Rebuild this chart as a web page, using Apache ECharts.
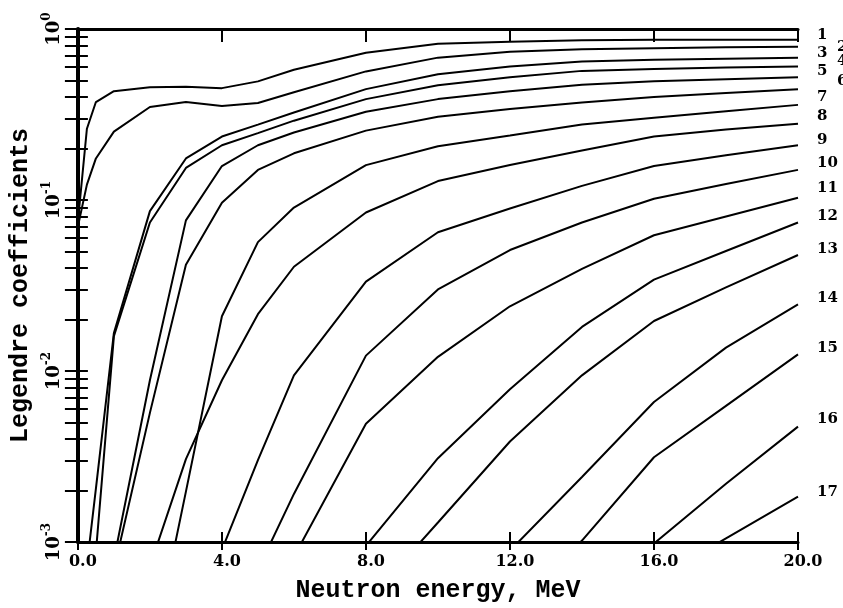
<!DOCTYPE html>
<html><head><meta charset="utf-8">
<script src="https://cdn.jsdelivr.net/npm/echarts@6/dist/echarts.min.js"></script>
<style>html,body{margin:0;padding:0;background:#fff}#c{width:843px;height:608px}</style>
</head><body><div id="c"></div>
<script>
// Neutron energy grid (MeV)
const energies = [0, 0.25, 0.5, 1, 2, 3, 4, 5, 6, 8, 10, 12, 14, 16, 18, 20];
const curveNames = ['1','2','3','4','5','6','7','8','9','10','11','12','13','14','15','16','17'];
// Legendre coefficients, one array per order
const c1  = [0.075, 0.261, 0.374, 0.433, 0.456, 0.459, 0.451, 0.494, 0.578, 0.727, 0.819, 0.841, 0.858, 0.864, 0.864, 0.864];
const c2  = [0.07, 0.123, 0.175, 0.251, 0.350, 0.374, 0.355, 0.369, 0.427, 0.565, 0.680, 0.737, 0.762, 0.772, 0.782, 0.787];
const c3  = [null, 0.00073, 0.00205, 0.0167, 0.0861, 0.175, 0.235, 0.276, 0.325, 0.445, 0.543, 0.604, 0.645, 0.662, 0.671, 0.680];
const c4  = [null, null, 0.00087, 0.0160, 0.0739, 0.154, 0.209, 0.246, 0.291, 0.389, 0.469, 0.522, 0.569, 0.584, 0.596, 0.604];
const c5  = [null, null, null, 0.00079, 0.00883, 0.076, 0.158, 0.209, 0.248, 0.328, 0.389, 0.433, 0.472, 0.494, 0.508, 0.522];
const c6  = [null, null, null, 0.00069, 0.00569, 0.0418, 0.0965, 0.150, 0.1875, 0.2545, 0.3065, 0.341, 0.372, 0.400, 0.422, 0.445];
const c7  = [null, null, null, null, 0.00019, 0.00197, 0.0209, 0.0567, 0.0903, 0.160, 0.206, 0.238, 0.276, 0.303, 0.330, 0.360];
const c8  = [null, null, null, null, 0.00072, 0.00305, 0.00883, 0.0215, 0.0407, 0.0845, 0.129, 0.160, 0.195, 0.235, 0.258, 0.279];
const c9  = [null, null, null, null, null, null, 0.0009, 0.00301, 0.00943, 0.0333, 0.0648, 0.0891, 0.121, 0.158, 0.1825, 0.209];
const c10 = [null, null, null, null, null, null, null, 0.00069, 0.00191, 0.0123, 0.0300, 0.0510, 0.0739, 0.1017, 0.124, 0.150];
const c11 = [null, null, null, null, null, null, null, null, 0.00082, 0.00492, 0.0121, 0.0239, 0.0396, 0.0622, 0.0801, 0.103];
const c12 = [null, null, null, null, null, null, null, null, null, 0.00095, 0.00309, 0.00783, 0.0181, 0.0342, 0.0503, 0.0739];
const c13 = [null, null, null, null, null, null, null, null, null, 0.00044, 0.0013, 0.00387, 0.00943, 0.0196, 0.0308, 0.0477];
const c14 = [null, null, null, null, null, null, null, null, null, null, null, 0.00089, 0.0024, 0.00659, 0.0137, 0.0245];
const c15 = [null, null, null, null, null, null, null, null, null, null, null, 0.00034, 0.00102, 0.00313, 0.00625, 0.0125];
const c16 = [null, null, null, null, null, null, null, null, null, null, null, null, 0.00046, 0.00098, 0.00219, 0.00473];
const c17 = [null, null, null, null, null, null, null, null, null, null, null, null, null, 0.0006, 0.00105, 0.00184];
const curves = [c1,c2,c3,c4,c5,c6,c7,c8,c9,c10,c11,c12,c13,c14,c15,c16,c17];
// tick labels / tick positions
const xTickFormat = v => v.toFixed(1);
const yMinorTicks = [0.001,0.002,0.003,0.004,0.005,0.006,0.007,0.008,0.009,
                     0.01,0.02,0.03,0.04,0.05,0.06,0.07,0.08,0.09,
                     0.1,0.2,0.3,0.4,0.5,0.6,0.7,0.8,0.9,1];

// label placement style (pixel offsets of the curve numbers)
const labelDx = [0,20,0,20,0,20,0,0,0,0,0,0,0,0,0,0,0];
const labelDy = [-5,0,-5,-5,-6,-8,-8,-8,-5,-7,-10,-6,-6,-6,-6,-7,-5];

const chart = echarts.init(document.getElementById('c'), null, {renderer:'canvas'});
const black = '#000';
const tickFont = {fontFamily:'DejaVu Serif', fontWeight:'bold', fontSize:16, color:black};
const nameFont = {fontFamily:'Liberation Mono', fontWeight:'bold', fontSize:25, color:black};

const series = curves.map((arr, k) => ({
  type:'line', name: curveNames[k], xAxisIndex:0, yAxisIndex:0,
  data: energies.map((e,i)=>[e, arr[i]]),
  showSymbol:false, symbol:'none', connectNulls:true, clip:true, silent:true,
  lineStyle:{color:black, width:2},
  emphasis:{disabled:true},
  endLabel:{show:true, formatter: curveNames[k], distance:19, offset:[labelDx[k], labelDy[k]],
    fontFamily:'DejaVu Serif', fontWeight:'bold', fontSize:15, color:black, align:'left'}
}));

const yBase = {type:'log', logBase:10, min:0.001, max:1, splitLine:{show:false}};
const xBase = {type:'value', min:0, max:20, interval:4, splitLine:{show:false}};

chart.setOption({
  animation:false,
  backgroundColor:'#fff',
  grid:{left:71, right:45, top:29, bottom:60, containLabel:false},
  xAxis:[
    Object.assign({}, xBase, {position:'bottom',
      axisLine:{show:true, lineStyle:{color:black, width:3}},
      axisTick:{show:true, length:8, lineStyle:{color:black, width:2}},
      axisLabel:Object.assign({formatter:xTickFormat, margin:12, padding:[0,0,0,10]}, tickFont),
      name:'Neutron energy, MeV', nameLocation:'middle', nameGap:36, nameTextStyle:nameFont}),
    Object.assign({}, xBase, {position:'bottom', axisLine:{show:false},
      axisTick:{show:true, inside:true, length:10, lineStyle:{color:black, width:2}},
      axisLabel:{show:false}}),
    Object.assign({}, xBase, {position:'top',
      axisLine:{show:true, lineStyle:{color:black, width:3}},
      axisTick:{show:true, inside:true, length:13, lineStyle:{color:black, width:2}},
      axisLabel:{show:false}})
  ],
  yAxis:[
    Object.assign({}, yBase, {position:'left',
      axisLine:{show:true, lineStyle:{color:black, width:4}},
      axisTick:{show:true, length:9, customValues:yMinorTicks, lineStyle:{color:black, width:2}},
      axisLabel:{show:true, rotate:90, margin:15,
        formatter: v => '{b|10}{s|' + Math.round(Math.log10(v)) + '}',
        rich:{b:Object.assign({}, tickFont, {fontSize:18, lineHeight:22, verticalAlign:'bottom'}),
              s:Object.assign({}, tickFont, {fontSize:12, lineHeight:22, verticalAlign:'top', padding:[0,0,9,0]})}},
      name:'Legendre coefficients', nameLocation:'middle', nameGap:40, nameRotate:90, nameTextStyle:nameFont}),
    Object.assign({}, yBase, {position:'left', axisLine:{show:false},
      axisTick:{show:true, inside:true, length:10, customValues:yMinorTicks, lineStyle:{color:black, width:2}},
      axisLabel:{show:false}}),
    Object.assign({}, yBase, {position:'right',
      axisLine:{show:true, lineStyle:{color:black, width:3}},
      axisTick:{show:true, inside:true, length:13, customValues:yMinorTicks, lineStyle:{color:black, width:2}},
      axisLabel:{show:false}})
  ],
  series: series
});
</script></body></html>
